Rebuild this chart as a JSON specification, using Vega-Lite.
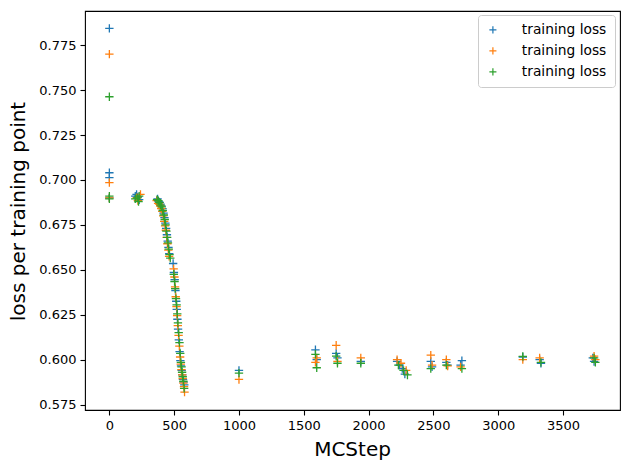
{
  "$schema": "https://vega.github.io/schema/vega-lite/v6.json",
  "width": 535,
  "height": 399,
  "autosize": {"type": "none"},
  "padding": {"left": 85, "top": 11, "right": 10, "bottom": 60},
  "background": "white",
  "config": {
    "font": "DejaVu Sans",
    "view": {"stroke": "black", "strokeWidth": 1.1},
    "axis": {
      "domain": false,
      "grid": false,
      "tickColor": "black",
      "tickSize": 5,
      "tickWidth": 1.1,
      "labelColor": "black",
      "labelFontSize": 13,
      "labelPadding": 4,
      "titleColor": "black",
      "titleFontWeight": "normal",
      "titleFontSize": 20
    }
  },
  "data": {
    "values": [
      {"step": 0, "loss": 0.7843, "run": "a"},
      {"step": 0, "loss": 0.704, "run": "a"},
      {"step": 0, "loss": 0.7013, "run": "a"},
      {"step": 0, "loss": 0.690, "run": "a"},
      {"step": 200, "loss": 0.691, "run": "a"},
      {"step": 210, "loss": 0.692, "run": "a"},
      {"step": 220, "loss": 0.6905, "run": "a"},
      {"step": 230, "loss": 0.689, "run": "a"},
      {"step": 372, "loss": 0.6895, "run": "a"},
      {"step": 380, "loss": 0.688, "run": "a"},
      {"step": 388, "loss": 0.6875, "run": "a"},
      {"step": 395, "loss": 0.6865, "run": "a"},
      {"step": 402, "loss": 0.6855, "run": "a"},
      {"step": 410, "loss": 0.684, "run": "a"},
      {"step": 418, "loss": 0.6815, "run": "a"},
      {"step": 425, "loss": 0.679, "run": "a"},
      {"step": 432, "loss": 0.676, "run": "a"},
      {"step": 438, "loss": 0.673, "run": "a"},
      {"step": 444, "loss": 0.6695, "run": "a"},
      {"step": 450, "loss": 0.666, "run": "a"},
      {"step": 456, "loss": 0.6625, "run": "a"},
      {"step": 462, "loss": 0.659, "run": "a"},
      {"step": 492, "loss": 0.6535, "run": "a"},
      {"step": 498, "loss": 0.6485, "run": "a"},
      {"step": 504, "loss": 0.6445, "run": "a"},
      {"step": 510, "loss": 0.6385, "run": "a"},
      {"step": 516, "loss": 0.6325, "run": "a"},
      {"step": 520, "loss": 0.628, "run": "a"},
      {"step": 525, "loss": 0.6225, "run": "a"},
      {"step": 530, "loss": 0.617, "run": "a"},
      {"step": 536, "loss": 0.611, "run": "a"},
      {"step": 542, "loss": 0.6045, "run": "a"},
      {"step": 548, "loss": 0.5995, "run": "a"},
      {"step": 553, "loss": 0.5965, "run": "a"},
      {"step": 558, "loss": 0.594, "run": "a"},
      {"step": 563, "loss": 0.5915, "run": "a"},
      {"step": 568, "loss": 0.589, "run": "a"},
      {"step": 573, "loss": 0.5875, "run": "a"},
      {"step": 578, "loss": 0.586, "run": "a"},
      {"step": 1000, "loss": 0.594, "run": "a"},
      {"step": 1590, "loss": 0.6055, "run": "a"},
      {"step": 1600, "loss": 0.600, "run": "a"},
      {"step": 1750, "loss": 0.6035, "run": "a"},
      {"step": 1760, "loss": 0.601, "run": "a"},
      {"step": 1940, "loss": 0.599, "run": "a"},
      {"step": 2220, "loss": 0.599, "run": "a"},
      {"step": 2240, "loss": 0.597, "run": "a"},
      {"step": 2260, "loss": 0.595, "run": "a"},
      {"step": 2280, "loss": 0.592, "run": "a"},
      {"step": 2480, "loss": 0.599, "run": "a"},
      {"step": 2490, "loss": 0.596, "run": "a"},
      {"step": 2600, "loss": 0.5985, "run": "a"},
      {"step": 2610, "loss": 0.597, "run": "a"},
      {"step": 2720, "loss": 0.5995, "run": "a"},
      {"step": 2710, "loss": 0.597, "run": "a"},
      {"step": 3190, "loss": 0.6015, "run": "a"},
      {"step": 3320, "loss": 0.600, "run": "a"},
      {"step": 3330, "loss": 0.598, "run": "a"},
      {"step": 3730, "loss": 0.601, "run": "a"},
      {"step": 3740, "loss": 0.599, "run": "a"},

      {"step": 0, "loss": 0.770, "run": "b"},
      {"step": 0, "loss": 0.6985, "run": "b"},
      {"step": 0, "loss": 0.690, "run": "b"},
      {"step": 210, "loss": 0.690, "run": "b"},
      {"step": 220, "loss": 0.6885, "run": "b"},
      {"step": 240, "loss": 0.692, "run": "b"},
      {"step": 365, "loss": 0.6885, "run": "b"},
      {"step": 376, "loss": 0.687, "run": "b"},
      {"step": 384, "loss": 0.6865, "run": "b"},
      {"step": 392, "loss": 0.6855, "run": "b"},
      {"step": 400, "loss": 0.684, "run": "b"},
      {"step": 408, "loss": 0.6825, "run": "b"},
      {"step": 416, "loss": 0.680, "run": "b"},
      {"step": 423, "loss": 0.677, "run": "b"},
      {"step": 430, "loss": 0.6745, "run": "b"},
      {"step": 436, "loss": 0.672, "run": "b"},
      {"step": 442, "loss": 0.668, "run": "b"},
      {"step": 448, "loss": 0.6645, "run": "b"},
      {"step": 455, "loss": 0.661, "run": "b"},
      {"step": 461, "loss": 0.6575, "run": "b"},
      {"step": 496, "loss": 0.6505, "run": "b"},
      {"step": 502, "loss": 0.646, "run": "b"},
      {"step": 507, "loss": 0.6405, "run": "b"},
      {"step": 512, "loss": 0.635, "run": "b"},
      {"step": 518, "loss": 0.6295, "run": "b"},
      {"step": 523, "loss": 0.6245, "run": "b"},
      {"step": 528, "loss": 0.619, "run": "b"},
      {"step": 534, "loss": 0.6135, "run": "b"},
      {"step": 540, "loss": 0.6075, "run": "b"},
      {"step": 546, "loss": 0.6015, "run": "b"},
      {"step": 551, "loss": 0.5975, "run": "b"},
      {"step": 556, "loss": 0.5945, "run": "b"},
      {"step": 562, "loss": 0.5915, "run": "b"},
      {"step": 566, "loss": 0.5895, "run": "b"},
      {"step": 571, "loss": 0.587, "run": "b"},
      {"step": 576, "loss": 0.585, "run": "b"},
      {"step": 580, "loss": 0.582, "run": "b"},
      {"step": 1000, "loss": 0.589, "run": "b"},
      {"step": 1590, "loss": 0.5985, "run": "b"},
      {"step": 1600, "loss": 0.601, "run": "b"},
      {"step": 1750, "loss": 0.608, "run": "b"},
      {"step": 1760, "loss": 0.599, "run": "b"},
      {"step": 1940, "loss": 0.601, "run": "b"},
      {"step": 2220, "loss": 0.600, "run": "b"},
      {"step": 2250, "loss": 0.598, "run": "b"},
      {"step": 2290, "loss": 0.594, "run": "b"},
      {"step": 2480, "loss": 0.6025, "run": "b"},
      {"step": 2490, "loss": 0.597, "run": "b"},
      {"step": 2600, "loss": 0.600, "run": "b"},
      {"step": 2610, "loss": 0.5965, "run": "b"},
      {"step": 2710, "loss": 0.596, "run": "b"},
      {"step": 3190, "loss": 0.600, "run": "b"},
      {"step": 3320, "loss": 0.601, "run": "b"},
      {"step": 3740, "loss": 0.602, "run": "b"},
      {"step": 3750, "loss": 0.600, "run": "b"},

      {"step": 0, "loss": 0.7463, "run": "c"},
      {"step": 0, "loss": 0.691, "run": "c"},
      {"step": 0, "loss": 0.6895, "run": "c"},
      {"step": 200, "loss": 0.6895, "run": "c"},
      {"step": 215, "loss": 0.690, "run": "c"},
      {"step": 230, "loss": 0.691, "run": "c"},
      {"step": 225, "loss": 0.688, "run": "c"},
      {"step": 368, "loss": 0.689, "run": "c"},
      {"step": 378, "loss": 0.6885, "run": "c"},
      {"step": 386, "loss": 0.6875, "run": "c"},
      {"step": 394, "loss": 0.686, "run": "c"},
      {"step": 404, "loss": 0.685, "run": "c"},
      {"step": 412, "loss": 0.683, "run": "c"},
      {"step": 420, "loss": 0.6805, "run": "c"},
      {"step": 427, "loss": 0.678, "run": "c"},
      {"step": 434, "loss": 0.675, "run": "c"},
      {"step": 440, "loss": 0.6715, "run": "c"},
      {"step": 446, "loss": 0.668, "run": "c"},
      {"step": 452, "loss": 0.665, "run": "c"},
      {"step": 458, "loss": 0.6615, "run": "c"},
      {"step": 464, "loss": 0.6585, "run": "c"},
      {"step": 470, "loss": 0.6565, "run": "c"},
      {"step": 497, "loss": 0.6475, "run": "c"},
      {"step": 503, "loss": 0.6435, "run": "c"},
      {"step": 508, "loss": 0.6395, "run": "c"},
      {"step": 514, "loss": 0.634, "run": "c"},
      {"step": 519, "loss": 0.6305, "run": "c"},
      {"step": 524, "loss": 0.6255, "run": "c"},
      {"step": 529, "loss": 0.6205, "run": "c"},
      {"step": 535, "loss": 0.615, "run": "c"},
      {"step": 541, "loss": 0.6095, "run": "c"},
      {"step": 547, "loss": 0.6035, "run": "c"},
      {"step": 552, "loss": 0.5985, "run": "c"},
      {"step": 557, "loss": 0.596, "run": "c"},
      {"step": 561, "loss": 0.593, "run": "c"},
      {"step": 566, "loss": 0.5905, "run": "c"},
      {"step": 571, "loss": 0.588, "run": "c"},
      {"step": 577, "loss": 0.584, "run": "c"},
      {"step": 1000, "loss": 0.5925, "run": "c"},
      {"step": 1590, "loss": 0.603, "run": "c"},
      {"step": 1600, "loss": 0.5955, "run": "c"},
      {"step": 1750, "loss": 0.602, "run": "c"},
      {"step": 1760, "loss": 0.598, "run": "c"},
      {"step": 1940, "loss": 0.598, "run": "c"},
      {"step": 2230, "loss": 0.597, "run": "c"},
      {"step": 2270, "loss": 0.594, "run": "c"},
      {"step": 2300, "loss": 0.5915, "run": "c"},
      {"step": 2480, "loss": 0.595, "run": "c"},
      {"step": 2600, "loss": 0.597, "run": "c"},
      {"step": 2720, "loss": 0.595, "run": "c"},
      {"step": 3190, "loss": 0.6018, "run": "c"},
      {"step": 3330, "loss": 0.5985, "run": "c"},
      {"step": 3740, "loss": 0.601, "run": "c"},
      {"step": 3750, "loss": 0.5985, "run": "c"}
    ]
  },
  "mark": {
    "type": "point",
    "shape": "M-1,0L1,0M0,-1L0,1",
    "filled": false,
    "size": 70,
    "strokeWidth": 1.3,
    "opacity": 1
  },
  "encoding": {
    "x": {
      "field": "step",
      "type": "quantitative",
      "scale": {"domain": [-188, 3940], "nice": false, "zero": false},
      "axis": {
        "values": [0, 500, 1000, 1500, 2000, 2500, 3000, 3500],
        "format": "d",
        "title": "MCStep",
        "titleX": 267,
        "titleY": 39,
        "titleAlign": "center",
        "titleBaseline": "middle"
      }
    },
    "y": {
      "field": "loss",
      "type": "quantitative",
      "scale": {"domain": [0.572, 0.794], "nice": false, "zero": false},
      "axis": {
        "values": [0.575, 0.6, 0.625, 0.65, 0.675, 0.7, 0.725, 0.75, 0.775],
        "format": ".3f",
        "title": "loss per training point",
        "titleX": -67,
        "titleY": 200,
        "titleAngle": -90,
        "titleAlign": "center",
        "titleBaseline": "middle"
      }
    },
    "color": {
      "field": "run",
      "type": "nominal",
      "scale": {"domain": ["a", "b", "c"], "range": ["#1f77b4", "#ff7f0e", "#2ca02c"]},
      "legend": {
        "title": null,
        "orient": "none",
        "legendX": 393,
        "legendY": 4,
        "labelExpr": "'training loss'",
        "labelFontSize": 13.8,
        "labelColor": "black",
        "labelOffset": 22,
        "symbolType": "M-1,0L1,0M0,-1L0,1",
        "symbolSize": 50,
        "symbolStrokeWidth": 1.2,
        "rowPadding": 6,
        "padding": 8,
        "strokeColor": "#cccccc",
        "fillColor": "white",
        "cornerRadius": 3,
        "offset": 0
      }
    },
    "order": {"field": "run", "type": "nominal"}
  }
}
